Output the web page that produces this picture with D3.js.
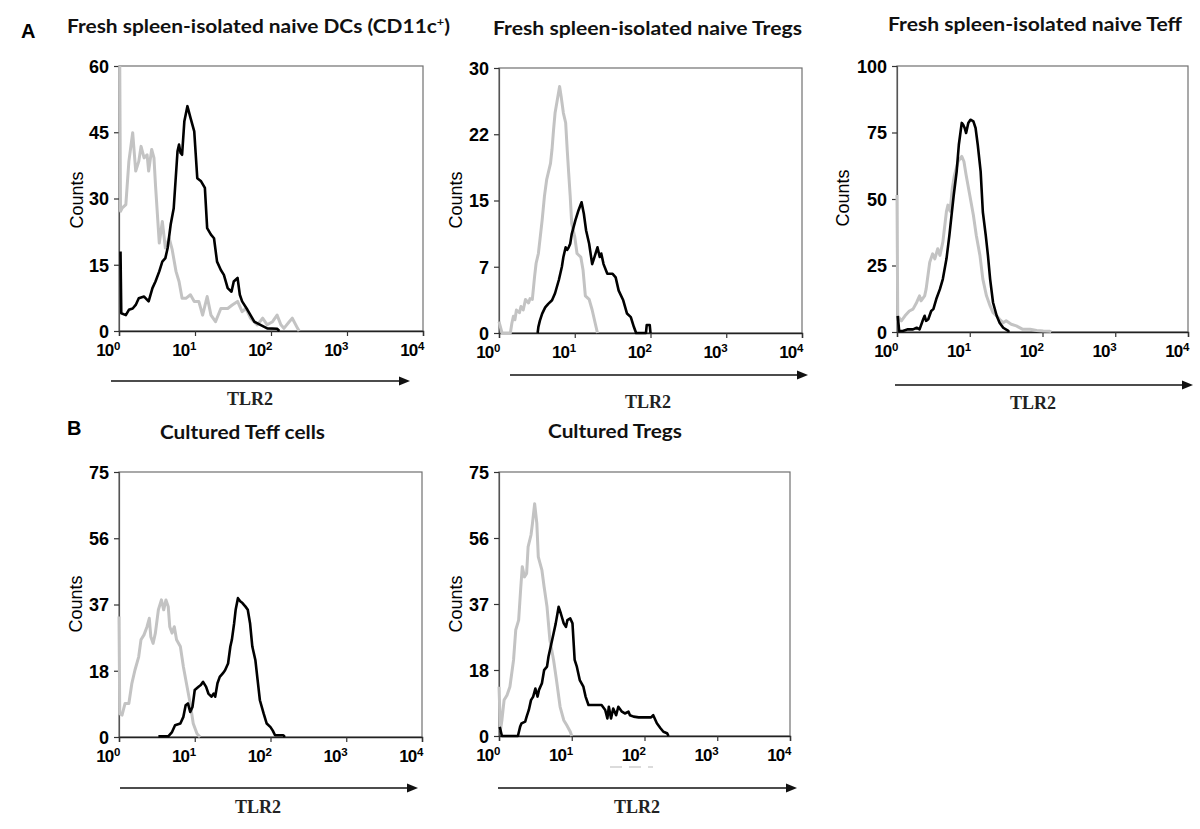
<!DOCTYPE html>
<html><head><meta charset="utf-8">
<script src="https://cdn.jsdelivr.net/npm/d3@7"></script>
<style>body{margin:0;background:#fff}svg{display:block}</style>
</head><body>
<svg id="chart" width="1200" height="829"></svg>
<script>
// ---- Data: [log10(TLR2 intensity), counts] ----
const dcBlack = [[0.02,18.0],[0.03,4.0],[0.09,3.6],[0.13,4.8],[0.18,5.1],[0.22,5.9],[0.26,7.4],[0.33,7.8],[0.39,6.7],[0.44,9.7],[0.48,11.2],[0.53,13.5],[0.57,15.7],[0.61,16.5],[0.64,18.8],[0.68,24.1],[0.72,27.8],[0.77,40.7],[0.79,42.2],[0.81,40.3],[0.83,39.9],[0.86,47.5],[0.90,50.9],[0.94,48.3],[0.99,45.2],[1.03,34.6],[1.08,33.9],[1.13,32.4],[1.16,23.3],[1.21,21.8],[1.25,21.0],[1.29,15.7],[1.34,13.8],[1.38,12.7],[1.43,9.7],[1.48,8.9],[1.51,11.2],[1.56,12.0],[1.59,8.2],[1.62,6.7],[1.69,4.8],[1.78,2.1],[1.86,1.4],[1.95,0.6],[2.08,0.5],[2.11,0]];
const dcGrey = [[0.01,60],[0.02,27.1],[0.04,27.8],[0.09,28.6],[0.13,38.4],[0.18,44.9],[0.22,36.2],[0.26,38.4],[0.29,41.8],[0.33,39.2],[0.37,39.9],[0.39,36.2],[0.43,41.1],[0.46,39.2],[0.48,33.1],[0.53,19.9],[0.57,24.8],[0.61,18.8],[0.66,21.0],[0.70,18.4],[0.75,13.5],[0.79,11.2],[0.83,7.4],[0.88,7.4],[0.94,8.2],[0.99,6.7],[1.05,6.7],[1.10,3.6],[1.16,7.8],[1.21,3.6],[1.27,2.1],[1.34,5.1],[1.43,5.1],[1.49,5.9],[1.56,6.7],[1.62,4.4],[1.67,5.1],[1.73,2.9],[1.82,1.4],[1.89,2.9],[1.95,1.4],[2.02,2.1],[2.08,3.6],[2.13,1.4],[2.17,0.6],[2.24,2.1],[2.28,2.9],[2.35,0.6],[2.37,0]];

const tregBlack = [[0.51,0],[0.52,0.7],[0.54,1.4],[0.57,2.2],[0.61,2.9],[0.65,3.3],[0.70,3.7],[0.74,4.5],[0.79,6.0],[0.83,7.5],[0.85,8.6],[0.88,9.7],[0.90,9.4],[0.92,9.7],[0.94,10.1],[0.96,11.2],[1.01,12.8],[1.05,13.9],[1.09,14.8],[1.12,13.5],[1.15,11.6],[1.19,10.1],[1.23,7.8],[1.26,8.6],[1.30,9.7],[1.33,8.6],[1.35,9.0],[1.38,7.8],[1.43,6.7],[1.50,6.7],[1.54,6.3],[1.58,4.8],[1.64,3.7],[1.69,2.2],[1.74,1.8],[1.78,0.7],[1.81,0],[1.94,0],[1.95,0.9],[1.99,0.9],[2.00,0]];
const tregGrey = [[0.00,1.3],[0.04,0],[0.15,0],[0.17,1.1],[0.19,1.9],[0.21,1.5],[0.23,2.6],[0.27,2.3],[0.29,3.0],[0.32,2.6],[0.35,3.8],[0.39,3.4],[0.41,3.9],[0.44,3.8],[0.47,6.4],[0.49,7.9],[0.52,9.0],[0.57,12.8],[0.60,15.5],[0.63,17.4],[0.68,19.2],[0.70,20.8],[0.72,23.0],[0.74,24.9],[0.77,26.4],[0.80,27.9],[0.82,26.8],[0.85,24.9],[0.88,23.8],[0.90,20.8],[0.92,18.1],[0.94,15.5],[0.96,12.4],[1.00,10.9],[1.03,9.0],[1.08,8.6],[1.11,7.1],[1.14,4.2],[1.19,3.8],[1.23,2.6],[1.27,1.1],[1.30,0]];

const teffBlack = [[0.01,6.1],[0.03,0.4],[0.08,0.4],[0.15,1.0],[0.22,1.0],[0.27,1.6],[0.31,1.0],[0.36,4.8],[0.38,6.1],[0.40,4.2],[0.43,4.8],[0.47,7.9],[0.50,8.6],[0.54,12.4],[0.59,16.1],[0.63,19.9],[0.68,27.5],[0.72,36.3],[0.75,43.9],[0.78,51.5],[0.82,60.3],[0.85,70.4],[0.89,78.6],[0.91,77.9],[0.93,76.7],[0.95,74.8],[0.98,78.6],[1.01,79.8],[1.05,79.2],[1.08,76.7],[1.11,70.4],[1.15,60.3],[1.18,45.1],[1.22,36.3],[1.25,28.8],[1.28,19.9],[1.32,11.1],[1.37,6.1],[1.41,3.5],[1.46,1.6],[1.53,0.4],[1.54,0]];
const teffGrey = [[0.00,51.5],[0.01,6.1],[0.06,4.2],[0.11,6.1],[0.17,7.9],[0.22,8.6],[0.27,11.1],[0.31,13.6],[0.33,11.7],[0.38,13.6],[0.40,16.1],[0.45,26.2],[0.49,29.4],[0.52,27.5],[0.56,31.3],[0.59,28.8],[0.63,33.8],[0.68,45.4],[0.70,47.7],[0.73,45.4],[0.76,54.0],[0.79,59.0],[0.84,64.1],[0.89,66.0],[0.92,64.1],[0.95,59.0],[1.00,51.5],[1.05,43.9],[1.09,36.3],[1.14,28.8],[1.18,19.9],[1.23,13.6],[1.28,9.8],[1.32,7.3],[1.37,6.1],[1.41,4.8],[1.46,3.5],[1.50,4.2],[1.57,2.9],[1.64,2.3],[1.73,1.0],[1.83,1.0],[1.92,0.6],[2.01,0.4],[2.10,0.3],[2.12,0]];

const cTeffBlack = [[0.52,0.2],[0.65,0.2],[0.70,1.4],[0.74,3.3],[0.81,3.8],[0.85,5.7],[0.88,9.0],[0.91,9.5],[0.94,7.1],[0.97,8.5],[1.00,13.3],[1.05,14.2],[1.08,14.7],[1.11,15.6],[1.15,14.2],[1.18,12.3],[1.22,11.4],[1.25,12.3],[1.27,11.4],[1.30,15.2],[1.33,17.0],[1.37,18.0],[1.40,18.9],[1.44,20.8],[1.47,25.6],[1.49,27.5],[1.52,32.2],[1.54,36.0],[1.57,39.3],[1.60,38.4],[1.63,37.9],[1.67,36.9],[1.70,36.0],[1.73,32.2],[1.76,25.6],[1.80,21.8],[1.83,16.1],[1.86,10.4],[1.91,6.6],[1.95,3.8],[2.00,2.8],[2.03,1.8],[2.06,0.5],[2.17,0.5],[2.19,0]];
const cTeffGrey = [[0.00,34.1],[0.01,6.6],[0.04,6.2],[0.08,9.5],[0.13,9.5],[0.17,15.2],[0.21,18.9],[0.26,22.7],[0.29,27.5],[0.33,28.9],[0.37,31.2],[0.40,33.6],[0.42,28.4],[0.45,26.5],[0.48,29.4],[0.52,36.0],[0.56,38.8],[0.59,36.0],[0.62,38.8],[0.65,36.9],[0.67,31.2],[0.70,29.4],[0.73,31.2],[0.76,27.5],[0.81,25.6],[0.85,19.9],[0.89,15.2],[0.94,9.5],[0.98,3.8],[1.03,0.9],[1.07,0]];

const cTregBlack = [[0.01,2.6],[0.04,0],[0.26,0],[0.29,2.6],[0.31,3.6],[0.36,4.1],[0.38,5.5],[0.41,7.4],[0.44,10.2],[0.47,11.2],[0.50,13.5],[0.53,11.2],[0.55,13.1],[0.59,15.0],[0.62,18.7],[0.66,19.7],[0.68,22.5],[0.72,26.3],[0.75,29.1],[0.78,32.0],[0.82,36.7],[0.85,34.8],[0.89,32.0],[0.92,31.0],[0.94,32.9],[0.98,33.4],[1.01,32.0],[1.04,21.6],[1.07,19.7],[1.11,15.9],[1.16,14.0],[1.19,11.2],[1.23,8.8],[1.41,8.8],[1.46,7.4],[1.49,5.0],[1.51,8.3],[1.54,5.0],[1.57,7.8],[1.61,5.9],[1.64,8.3],[1.69,6.9],[1.73,6.4],[1.78,6.9],[1.80,5.9],[1.85,5.5],[1.92,5.3],[2.09,5.3],[2.12,5.9],[2.17,3.6],[2.22,2.2],[2.26,1.2],[2.31,0.8],[2.33,0]];
const cTregGrey = [[0.00,14.0],[0.02,1.7],[0.04,4.5],[0.07,10.2],[0.11,11.6],[0.15,14.0],[0.20,21.6],[0.23,30.1],[0.27,32.9],[0.30,42.4],[0.32,48.1],[0.35,45.2],[0.38,46.2],[0.40,53.7],[0.44,57.1],[0.46,60.4],[0.49,66.0],[0.52,60.4],[0.54,50.9],[0.59,47.1],[0.62,42.4],[0.66,36.7],[0.70,27.2],[0.75,21.6],[0.79,15.9],[0.84,8.3],[0.89,4.5],[0.93,3.1],[0.98,1.2],[1.00,0]];

// ---- Axis tick values / labels ----
const xDecades = [0, 1, 2, 3, 4];
const ticksDC = [0, 15, 30, 45, 60];           const labelsDC = ["0","15","30","45","60"];
const ticksTreg = [0, 7.5, 15, 22.5, 30];       const labelsTreg = ["0","7","15","22","30"];
const ticksTeff = [0, 25, 50, 75, 100];         const labelsTeff = ["0","25","50","75","100"];
const ticksCult = [0, 18.75, 37.5, 56.25, 75];  const labelsCult = ["0","18","37","56","75"];

const titles = ["Fresh spleen-isolated naive DCs (CD11c", "Fresh spleen-isolated naive Tregs", "Fresh spleen-isolated naive Teff", "Cultured Teff cells", "Cultured Tregs"];
const xLabel = "TLR2", yLabel = "Counts";

// ---- Layout (positions only) ----
const panels = [
  {black: dcBlack, grey: dcGrey, ymax: 60, ticks: ticksDC, labels: labelsDC, title: titles[0], sup: "+",
   L:119, R:423, T:66, B:331, tx:67, ty:33, tw:383, ax1:111, ax2:410, ay:381, lx:250, ly:405, cx:77, cy:200},
  {black: tregBlack, grey: tregGrey, ymax: 30, ticks: ticksTreg, labels: labelsTreg, title: titles[1],
   L:499, R:802, T:68, B:333, tx:493, ty:35, tw:309, ax1:510, ax2:808, ay:375, lx:648, ly:408, cx:456, cy:200},
  {black: teffBlack, grey: teffGrey, ymax: 100, ticks: ticksTeff, labels: labelsTeff, title: titles[2],
   L:897, R:1188, T:66, B:332, tx:888, ty:31, tw:294, ax1:895, ax2:1193, ay:385, lx:1033, ly:409, cx:843, cy:198},
  {black: cTeffBlack, grey: cTeffGrey, ymax: 75, ticks: ticksCult, labels: labelsCult, title: titles[3],
   L:119, R:422, T:472, B:737, tx:160, ty:439, tw:165, ax1:120, ax2:418, ay:788, lx:258, ly:813, cx:76, cy:604},
  {black: cTregBlack, grey: cTregGrey, ymax: 75, ticks: ticksCult, labels: labelsCult, title: titles[4],
   L:499, R:790, T:472, B:736, tx:548, ty:438, tw:134, ax1:498, ax2:797, ay:788, lx:637, ly:813, cx:456, cy:604}
];

const svg = d3.select("#chart");
svg.append("rect").attr("width",1200).attr("height",829).attr("fill","#fff");

// panel letters
svg.append("text").attr("x",21).attr("y",38).text("A")
  .attr("font-family","Liberation Sans, Arial, sans-serif").attr("font-weight","bold").attr("font-size",20);
svg.append("text").attr("x",67).attr("y",435).text("B")
  .attr("font-family","Liberation Sans, Arial, sans-serif").attr("font-weight","bold").attr("font-size",20);

panels.forEach(p => {
  const x = d3.scaleLinear().domain([0,4]).range([p.L, p.R]);
  const y = d3.scaleLinear().domain([0,p.ymax]).range([p.B, p.T]);
  const g = svg.append("g");

  // title
  const t = g.append("text").attr("x",p.tx).attr("y",p.ty)
    .attr("font-family","Lato, 'Open Sans', sans-serif").attr("font-weight","bold").attr("font-size",18)
    .attr("fill","#111");
  t.append("tspan").text(p.title);
  if (p.sup) {
    t.append("tspan").attr("font-size",11).attr("dy",-7).text(p.sup);
    t.append("tspan").attr("dy",7).text(")");
  }
  t.attr("textLength",p.tw).attr("lengthAdjust","spacingAndGlyphs");

  // frame
  g.append("rect").attr("x",p.L).attr("y",p.T).attr("width",p.R-p.L).attr("height",p.B-p.T)
    .attr("fill","none").attr("stroke","#707070").attr("stroke-width",1.2);

  // y axis
  const ya = g.append("g").attr("transform",`translate(${p.L},0)`)
    .call(d3.axisLeft(y).tickValues(p.ticks).tickFormat((d,i)=>p.labels[i]).tickSize(5).tickPadding(5));
  ya.select(".domain").attr("stroke","#555").attr("stroke-width",1.2);
  ya.selectAll(".tick line").attr("stroke","#333").attr("stroke-width",1.2);
  ya.selectAll(".tick text").attr("font-family","Liberation Sans, Arial, sans-serif")
    .attr("font-weight","bold").attr("font-size",18).attr("fill","#000").attr("dy","0.36em");

  // x axis
  const xa = g.append("g").attr("transform",`translate(0,${p.B})`)
    .call(d3.axisBottom(x).tickValues(xDecades).tickFormat("").tickSize(5));
  xa.select(".domain").attr("stroke","#222").attr("stroke-width",1.4);
  xa.selectAll(".tick line").attr("stroke","#333").attr("stroke-width",1.2);
  xa.selectAll(".tick").append("text")
    .attr("x",1).attr("y",25).attr("text-anchor","end").attr("fill","#000")
    .attr("font-family","Liberation Sans, Arial, sans-serif").attr("font-weight","bold").attr("font-size",17)
    .each(function(d){
      const s = d3.select(this);
      s.append("tspan").attr("letter-spacing",-1).text("10");
      s.append("tspan").attr("font-size",11.5).attr("dy",-6).attr("dx",1).text(d);
    });

  // histograms
  const line = d3.line().x(d=>x(d[0])).y(d=>y(d[1]));
  g.append("path").datum(p.grey).attr("d",line).attr("fill","none")
    .attr("stroke","#c3c3c3").attr("stroke-width",3).attr("stroke-linejoin","round");
  g.append("path").datum(p.black).attr("d",line).attr("fill","none")
    .attr("stroke","#000").attr("stroke-width",2.6).attr("stroke-linejoin","round");

  // arrow
  g.append("line").attr("x1",p.ax1).attr("x2",p.ax2-8).attr("y1",p.ay).attr("y2",p.ay)
    .attr("stroke","#111").attr("stroke-width",1.3);
  g.append("path").attr("d",`M${p.ax2-11},${p.ay-4.5}L${p.ax2},${p.ay}L${p.ax2-11},${p.ay+4.5}Z`).attr("fill","#111");

  // x label
  g.append("text").attr("x",p.lx).attr("y",p.ly).attr("text-anchor","middle").text(xLabel)
    .attr("font-family","Liberation Serif, 'Times New Roman', serif").attr("font-weight","bold").attr("font-size",18)
    .attr("fill","#222");

  // y label
  g.append("text").attr("transform",`translate(${p.cx},${p.cy}) rotate(-90)`).attr("text-anchor","middle")
    .attr("dy","0.35em").text(yLabel)
    .attr("font-family","Liberation Sans, Arial, sans-serif").attr("font-size",18).attr("fill","#000");
});

// faint scanning artifact under the last panel's 10^2 label
svg.append("line").attr("x1",610).attr("x2",653).attr("y1",767).attr("y2",767)
  .attr("stroke","#cfcfcf").attr("stroke-width",1.5).attr("stroke-dasharray","12,7");
</script>
</body></html>
